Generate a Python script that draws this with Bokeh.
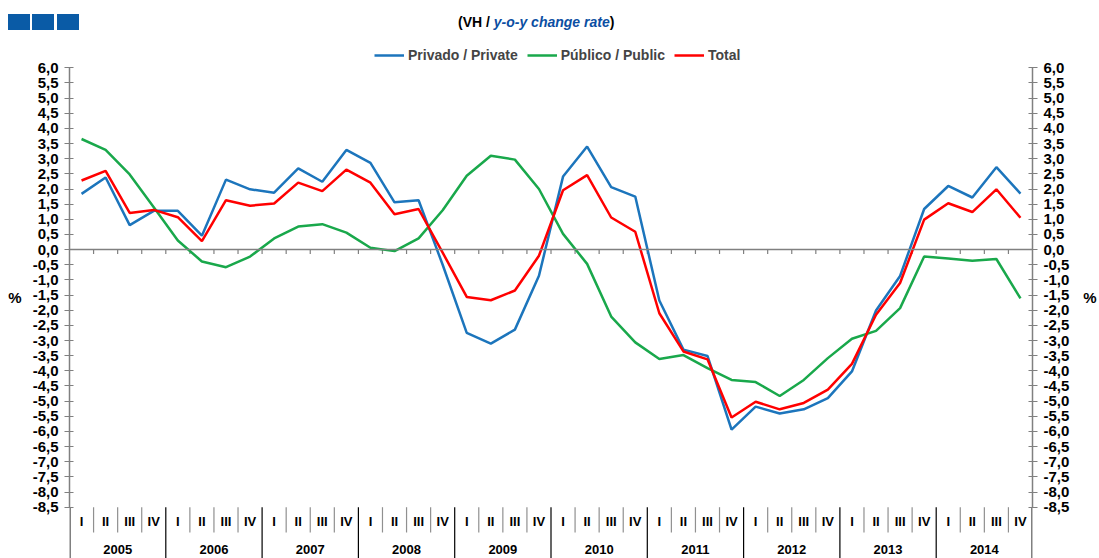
import numpy as np
from bokeh.plotting import figure
from bokeh.layouts import column
from bokeh.models import (Range1d, LinearAxis, FixedTicker, CustomJSTickFormatter, Span,
                          Legend, LegendItem, Div)
from bokeh.core.properties import value
from bokeh.embed import file_html
from bokeh.resources import INLINE

# ---------------- data ----------------
years = ["2005", "2006", "2007", "2008", "2009", "2010", "2011", "2012", "2013", "2014"]
quarter_names = ["I", "II", "III", "IV"]

private = [1.84, 2.38, 0.81, 1.28, 1.28, 0.46, 2.31, 1.99, 1.88, 2.68, 2.24, 3.29,
           2.86, 1.56, 1.63, -0.50, -2.75, -3.10, -2.64, -0.86, 2.41, 3.40, 2.06, 1.75,
           -1.68, -3.30, -3.51, -5.94, -5.18, -5.41, -5.27, -4.90, -4.02, -2.01, -0.87, 1.34,
           2.10, 1.72, 2.72, 1.85]
public = [3.65, 3.29, 2.48, 1.40, 0.30, -0.39, -0.58, -0.23, 0.37, 0.76, 0.84, 0.56,
          0.06, -0.05, 0.37, 1.30, 2.44, 3.10, 2.97, 2.00, 0.52, -0.47, -2.21, -3.06,
          -3.61, -3.48, -3.91, -4.30, -4.37, -4.83, -4.30, -3.58, -2.94, -2.68, -1.93, -0.23,
          -0.29, -0.37, -0.31, -1.61]
total = [2.28, 2.60, 1.21, 1.31, 1.07, 0.28, 1.63, 1.45, 1.52, 2.21, 1.93, 2.64,
         2.21, 1.17, 1.34, -0.10, -1.56, -1.67, -1.35, -0.20, 1.96, 2.46, 1.06, 0.59,
         -2.10, -3.36, -3.62, -5.54, -5.02, -5.27, -5.06, -4.62, -3.77, -2.15, -1.10, 0.99,
         1.53, 1.24, 1.99, 1.05]

y_ticks = [6.0, 5.5, 5.0, 4.5, 4.0, 3.5, 3.0, 2.5, 2.0, 1.5, 1.0, 0.5, 0.0,
           -0.5, -1.0, -1.5, -2.0, -2.5, -3.0, -3.5, -4.0, -4.5, -5.0, -5.5,
           -6.0, -6.5, -7.0, -7.5, -8.0, -8.5]

series_names = ["Privado / Private", "Público / Public", "Total"]
series_colors = ["#1c75bc", "#19a84b", "#ff0000"]
subtitle_parts = ["(VH / ", "y-o-y change rate", ")"]

# ---------------- layout constants (page pixels) ----------------
PAGE_W, PAGE_H = 1099, 558
HEAD_H = 35                       # header (logo + subtitle) height
W, H = PAGE_W, PAGE_H - HEAD_H    # figure size
FRAME_L, FRAME_R = 69, 1036       # page x of the frame edges
Y_TOP_PX, Y_BOT_PX = 67.3, 506.7  # page y of 6.0 and -8.5
PPY = (Y_BOT_PX - Y_TOP_PX) / 14.5
NQ = len(years) * len(quarter_names)
X0, X1 = -0.5, NQ - 0.5
Y1 = 6.0 + (Y_TOP_PX - HEAD_H) / PPY
Y0 = 6.0 - (PAGE_H - Y_TOP_PX) / PPY

def dy(py):   # page y -> data y
    return 6.0 + (Y_TOP_PX - py) / PPY

FONT = "Liberation Sans"

# ---------------- header ----------------
boxes = "".join(
    f'<div style="position:absolute;left:{l}px;top:14px;width:22px;height:16px;background:#0a5ba6"></div>'
    for l in (8, 32, 57))
head_html = (
    f'<div style="position:relative;width:{PAGE_W}px;height:{HEAD_H}px;font-family:\'{FONT}\';">'
    + boxes +
    '<div style="position:absolute;left:458px;top:14px;font-weight:bold;font-size:14px;'
    'line-height:16px;color:black;white-space:nowrap;">'
    f'{subtitle_parts[0]}<i style="color:#0b4ea2">{subtitle_parts[1]}</i>{subtitle_parts[2]}</div></div>')
head = Div(text=head_html, width=PAGE_W, height=HEAD_H, margin=(0, 0, 0, 0))

# ---------------- figure ----------------
p = figure(width=W, height=H, x_range=Range1d(X0, X1), y_range=Range1d(Y0, Y1),
           x_axis_type=None, output_backend="svg", toolbar_location=None,
           min_border_left=FRAME_L, min_border_right=PAGE_W - FRAME_R,
           min_border_top=0, min_border_bottom=0, margin=(0, 0, 0, 0))
p.outline_line_color = None
p.xgrid.visible = False
p.ygrid.visible = False
p.background_fill_color = "white"

xs = np.arange(NQ)

fmt = CustomJSTickFormatter(code="return tick.toFixed(1).replace('.', ',');")
right_axis = LinearAxis()
p.add_layout(right_axis, "right")
for ax, standoff in [(p.yaxis[0], 8), (right_axis, 11)]:
    ax.ticker = FixedTicker(ticks=y_ticks)
    ax.formatter = fmt
    ax.bounds = (-8.5, 6.0)
    ax.axis_line_color = "#808080"
    ax.axis_line_width = 1.5
    ax.major_tick_line_color = "#808080"
    ax.major_tick_line_width = 1.2
    ax.major_tick_in = 4
    ax.major_tick_out = 5
    ax.minor_tick_line_color = None
    ax.major_label_text_font = FONT
    ax.major_label_text_font_style = "bold"
    ax.major_label_text_font_size = "15px"
    ax.major_label_text_color = "black"
    ax.major_label_standoff = 6
    ax.axis_label = "%"
    ax.axis_label_orientation = "horizontal"
    ax.axis_label_text_font = FONT
    ax.axis_label_text_font_style = "bold"
    ax.axis_label_text_font_size = "15px"
    ax.axis_label_text_color = "black"
    ax.axis_label_standoff = standoff

# zero line with small ticks at quarter boundaries
p.add_layout(Span(location=0, dimension="width", line_color="#808080", line_width=1.5))
bounds = np.arange(1, NQ) - 0.5
p.segment(x0=bounds, y0=np.zeros(len(bounds)), x1=bounds, y1=np.full(len(bounds), -4.5 / PPY),
          line_color="#808080", line_width=1.2)

# ---------------- series ----------------
renderers = []
for vals, col in zip([private, public, total], series_colors):
    r = p.line(xs, vals, line_color=col, line_width=2.5)
    renderers.append(r)

legend = Legend(items=[LegendItem(label=n, renderers=[r]) for n, r in zip(series_names, renderers)],
                orientation="horizontal", location=(374 - FRAME_L, PAGE_H - 43 - 20),
                label_text_font=FONT, label_text_font_style="bold", label_text_font_size="14px",
                glyph_width=30, glyph_height=14, label_standoff=4, spacing=9,
                padding=0, margin=0, border_line_color=None, background_fill_alpha=0)
p.add_layout(legend, "center")

# ---------------- category axis (bottom) ----------------
q_x = [4 * i + j for i in range(len(years)) for j in range(len(quarter_names))]
q_t = [quarter_names[j] for i in range(len(years)) for j in range(len(quarter_names))]
p.text(x=q_x, y=[dy(521)] * len(q_x), text=q_t, text_font=value(FONT), text_font_style="bold",
       text_font_size="13px", text_align="center", text_baseline="middle", text_color="black")
y_x = [4 * i + 1.5 for i in range(len(years))]
p.text(x=y_x, y=[dy(549)] * len(y_x), text=years, text_font=value(FONT), text_font_style="bold",
       text_font_size="13px", text_align="center", text_baseline="middle", text_color="black")

qsep = [k - 0.5 for k in range(1, NQ) if k % 4 != 0]
ysep = [k - 0.5 for k in range(1, NQ) if k % 4 == 0]
p.segment(x0=qsep, y0=[-8.5] * len(qsep), x1=qsep, y1=[dy(532)] * len(qsep),
          line_color="#909090", line_width=1.2)
p.segment(x0=ysep, y0=[-8.5] * len(ysep), x1=ysep, y1=[Y0] * len(ysep),
          line_color="black", line_width=1.2)
# continuation of the outer axis lines down through the category labels
p.segment(x0=[X0, X1], y0=[-8.5, -8.5], x1=[X0, X1], y1=[Y0, Y0],
          line_color="#808080", line_width=3)

open("out.html", "w").write(file_html(column(head, p, spacing=0), INLINE))
